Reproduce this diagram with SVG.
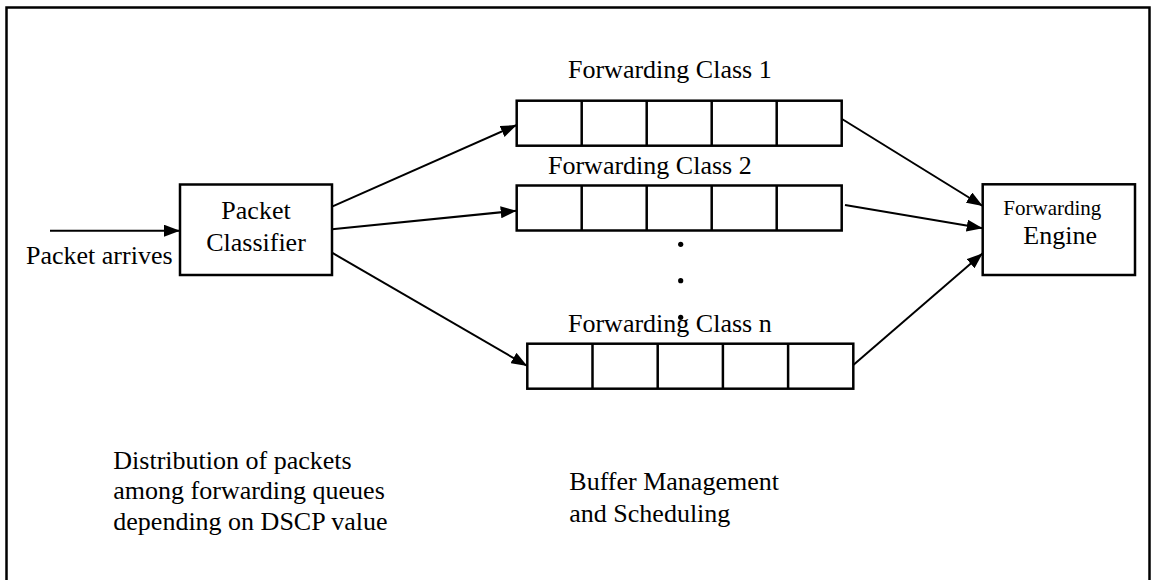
<svg xmlns="http://www.w3.org/2000/svg" width="1154" height="580" viewBox="0 0 1154 580">
<style>
  .t{font-family:"Liberation Serif","Times New Roman",serif;font-size:26px;fill:#000}
  .box{fill:#fff;stroke:#000;stroke-width:2.5}
  .cell{fill:none;stroke:#000;stroke-width:2.5}
  .conn{fill:none;stroke:#000;stroke-width:2;marker-end:url(#ah)}
</style>
<defs>
  <marker id="ah" viewBox="0 0 16 12" refX="16" refY="6" markerWidth="16" markerHeight="12" markerUnits="userSpaceOnUse" orient="auto">
    <path d="M0,0 L16,6 L0,12 Z" fill="#000"/>
  </marker>
</defs>
<rect x="0" y="0" width="1154" height="580" fill="#fff"/>
<rect id="frame" x="6.5" y="7.5" width="1143" height="600" fill="none" stroke="#000" stroke-width="2.5"/>

<g id="arrivals">
  <text class="t" x="26" y="264">Packet arrives</text>
</g>

<g id="classifier">
  <rect class="box" x="180" y="184.5" width="152" height="90.5"/>
  <text class="t" x="256" y="219" text-anchor="middle">Packet</text>
  <text class="t" x="256" y="251" text-anchor="middle">Classifier</text>
</g>

<g id="queue1">
  <text class="t" x="568" y="77.5">Forwarding Class 1</text>
  <rect class="cell" x="516.7" y="100.7" width="325" height="45"/>
  <path class="cell" d="M581.7,100.7V145.7M646.7,100.7V145.7M711.7,100.7V145.7M776.7,100.7V145.7"/>
</g>

<g id="queue2">
  <text class="t" x="548" y="174">Forwarding Class 2</text>
  <rect class="cell" x="516.7" y="185.5" width="325" height="45"/>
  <path class="cell" d="M581.7,185.5V230.5M646.7,185.5V230.5M711.7,185.5V230.5M776.7,185.5V230.5"/>
</g>

<g id="dots">
  <circle cx="680.7" cy="244.3" r="2.6" fill="#000"/>
  <circle cx="680.7" cy="280.7" r="2.6" fill="#000"/>
  <circle cx="680.7" cy="317.3" r="2.6" fill="#000"/>
</g>

<g id="queuen">
  <text class="t" x="568" y="331.7">Forwarding Class n</text>
  <rect class="cell" x="527.3" y="343.7" width="326" height="45"/>
  <path class="cell" d="M592.5,343.7V388.7M657.7,343.7V388.7M722.9,343.7V388.7M788.1,343.7V388.7"/>
</g>

<g id="engine">
  <rect class="box" x="982.7" y="184.3" width="152.3" height="90.7"/>
  <text class="t" x="1003.3" y="215" style="font-size:21px">Forwarding</text>
  <text class="t" x="1023.3" y="244">Engine</text>
</g>

<g id="connectors">
  <line class="conn" x1="50" y1="230.7" x2="180" y2="230.7"/>
  <line class="conn" x1="332" y1="206.7" x2="516.7" y2="125"/>
  <line class="conn" x1="332" y1="229.3" x2="516.7" y2="210.7"/>
  <line class="conn" x1="332" y1="252.7" x2="527.3" y2="366"/>
  <line class="conn" x1="842" y1="119" x2="982.7" y2="206"/>
  <line class="conn" x1="845" y1="205" x2="982.7" y2="228.3"/>
  <line class="conn" x1="853.3" y1="365" x2="982.7" y2="253.3"/>
</g>

<g id="notes">
  <text class="t" x="113.3" y="469.3">Distribution of packets</text>
  <text class="t" x="113.3" y="499.3">among forwarding queues</text>
  <text class="t" x="113.3" y="530">depending on DSCP value</text>
  <text class="t" x="569.3" y="490">Buffer Management</text>
  <text class="t" x="569.3" y="521.7">and Scheduling</text>
</g>
</svg>
